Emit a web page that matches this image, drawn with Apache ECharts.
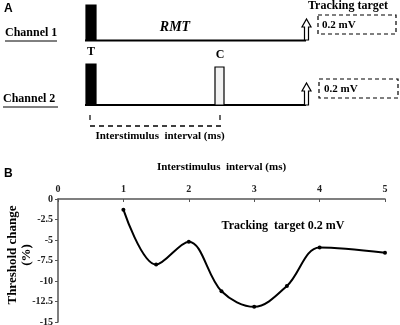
<!DOCTYPE html>
<html>
<head>
<meta charset="utf-8">
<script src="https://cdn.jsdelivr.net/npm/echarts@6/dist/echarts.min.js"></script>
<style>
  html, body { margin: 0; padding: 0; background: #fff; }
  #chart { width: 400px; height: 325px; }
</style>
</head>
<body>
<div id="chart"></div>
<script>
// panel B data
const isi = [1, 1.5, 2, 2.5, 3, 3.5, 4, 5];
const thresholdChange = [-1.3, -8.0, -5.2, -11.25, -13.15, -10.6, -5.9, -6.55];
const xTicks = [0, 1, 2, 3, 4, 5];
const yTicks = [0, -2.5, -5, -7.5, -10, -12.5, -15];

const serif = "Liberation Serif, Times New Roman, serif";
const sans = "Liberation Sans, Arial, sans-serif";

let chart = echarts.init(document.getElementById("chart"));

// little schematic helpers for panel A
function txt(x, y, text, opts) {
  opts = opts || {};
  return {
    type: "text", x: x, y: y,
    rotation: opts.rotation || 0,
    style: {
      text: text,
      font: opts.font || ("bold 12px " + serif),
      fill: opts.fill || "#000",
      align: opts.align || "left",
      verticalAlign: "middle"
    }
  };
}
function line(x1, y1, x2, y2, w, dash) {
  return {
    type: "line",
    shape: { x1: x1, y1: y1, x2: x2, y2: y2 },
    style: { stroke: "#000", lineWidth: w || 1.5, lineDash: dash || null }
  };
}
function rect(x, y, w, h, fill, dash) {
  return {
    type: "rect",
    shape: { x: x, y: y, width: w, height: h },
    style: { fill: fill, stroke: "#000", lineWidth: 1.2, lineDash: dash || null }
  };
}
function arrow(cx, bottom, tip) {
  return {
    type: "polygon",
    shape: {
      points: [[cx - 2, bottom], [cx - 2, tip + 8], [cx - 4.5, tip + 8], [cx, tip],
               [cx + 4.5, tip + 8], [cx + 2, tip + 8], [cx + 2, bottom]]
    },
    style: { fill: "#fff", stroke: "#000", lineWidth: 1.2 }
  };
}

let schematic = [
  txt(4, 9, "A", { font: "bold 12px " + sans }),
  // channel 1
  txt(5, 33, "Channel 1"),
  line(5, 41, 57, 41, 1),
  line(85, 40.5, 306, 40.5, 2),
  rect(86, 5, 10, 35.5, "#000"),
  txt(175, 27, "RMT", { font: "italic bold 14px " + serif, align: "center" }),
  arrow(306.5, 40, 19),
  txt(348, 6, "Tracking target", { align: "center" }),
  rect(318, 15, 78, 19, "none", [4, 3]),
  txt(322, 25, "0.2 mV", { font: "bold 11px " + serif }),
  // channel 2
  txt(3, 99, "Channel 2"),
  line(3, 107, 58, 107, 1),
  line(85, 105, 306, 105, 2),
  txt(91, 52, "T", { align: "center" }),
  rect(86, 64, 10, 41, "#000"),
  txt(220, 55, "C", { align: "center" }),
  rect(215, 67, 9, 38, "#f2f2f2"),
  arrow(306.5, 105, 83),
  rect(319, 79, 79, 19, "none", [4, 3]),
  txt(324, 89, "0.2 mV", { font: "bold 11px " + serif }),
  // interstimulus interval
  line(90, 115, 90, 120, 1.2),
  line(220, 115, 220, 120, 1.2),
  line(90, 126, 222, 126, 1.5, [5, 4]),
  txt(160, 136, "Interstimulus  interval (ms)", { font: "bold 11px " + serif, align: "center" }),
  // panel B labels
  txt(4, 174, "B", { font: "bold 12px " + sans }),
  txt(283, 226, "Tracking  target 0.2 mV", { align: "center" }),
  // y axis title, two rotated lines
  txt(13, 255, "Threshold change", { font: "bold 13px " + serif, align: "center", rotation: Math.PI / 2 }),
  txt(27, 255, "(%)", { font: "bold 13px " + serif, align: "center", rotation: Math.PI / 2 })
];

let option = {
  animation: false,
  grid: { left: 58, right: 15, top: 199, bottom: 3, containLabel: false, outerBoundsMode: "none" },
  xAxis: {
    type: "value",
    position: "top",
    min: xTicks[0],
    max: xTicks[xTicks.length - 1],
    interval: 1,
    name: "Interstimulus  interval (ms)",
    nameLocation: "middle",
    nameGap: 26,
    nameTextStyle: { fontFamily: serif, fontWeight: "bold", fontSize: 11, color: "#000" },
    axisLine: { onZero: false, lineStyle: { color: "#555", width: 1.5 } },
    axisTick: { inside: true, length: 3, lineStyle: { color: "#555" } },
    axisLabel: { fontFamily: serif, fontWeight: "bold", fontSize: 10, color: "#222", margin: 5, showMinLabel: true },
    splitLine: { show: false }
  },
  yAxis: {
    type: "value",
    min: yTicks[yTicks.length - 1],
    max: yTicks[0],
    interval: 2.5,
    axisLine: { onZero: false, lineStyle: { color: "#555", width: 1.5 } },
    axisTick: { length: 3, lineStyle: { color: "#555" } },
    axisLabel: { fontFamily: serif, fontWeight: "bold", fontSize: 10, color: "#222", margin: 5, showMaxLabel: true, hideOverlap: false },
    splitLine: { show: false }
  },
  series: [
    {
      type: "line",
      data: isi.map((x, i) => [x, thresholdChange[i]]),
      smooth: 0.35,
      symbol: "circle",
      symbolSize: 4,
      itemStyle: { color: "#000" },
      lineStyle: { color: "#000", width: 2 }
    }
  ],
  graphic: schematic
};
chart.setOption(option);
</script>
</body>
</html>
